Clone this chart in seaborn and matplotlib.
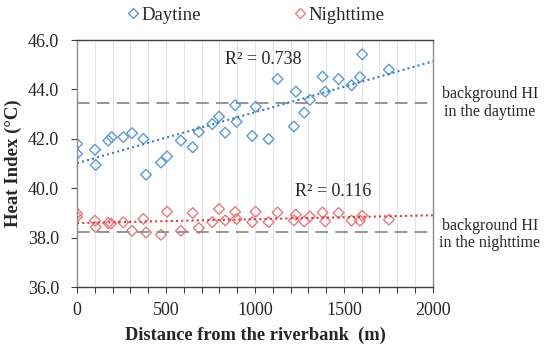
"""
Heat index vs distance from the riverbank (day / night) with linear trends
"""

import matplotlib
matplotlib.use("Agg")

import numpy as np
import pandas as pd
import matplotlib.pyplot as plt
import seaborn as sns

# ---- data ----
day_dist = [0, 0, 101, 105, 176, 195, 260, 309, 373, 388, 472, 506, 584, 650, 685,
            760, 798, 833, 889, 897, 985, 1004, 1077, 1127, 1219, 1230, 1277, 1309,
            1380, 1395, 1470, 1543, 1590, 1603, 1753]
day_hi = [41.80, 41.39, 41.56, 40.94, 41.93, 42.07, 42.07, 42.23, 42.00, 40.55, 41.04,
          41.29, 41.93, 41.66, 42.28, 42.60, 42.90, 42.25, 43.36, 42.69, 42.12, 43.30,
          41.99, 44.42, 42.50, 43.91, 43.06, 43.58, 44.52, 43.91, 44.42, 44.17, 44.50,
          45.42, 44.80]

night_dist = [0, 0, 101, 105, 176, 191, 260, 309, 373, 388, 472, 506, 584, 650, 685,
              760, 798, 833, 889, 897, 985, 1004, 1077, 1127, 1219, 1230, 1277, 1309,
              1380, 1395, 1470, 1543, 1590, 1603, 1753]
night_hi = [38.98, 38.85, 38.69, 38.43, 38.59, 38.57, 38.62, 38.28, 38.76, 38.21, 38.12,
            39.05, 38.28, 39.00, 38.39, 38.63, 39.16, 38.70, 39.04, 38.76, 38.63, 39.05,
            38.63, 39.02, 38.70, 38.93, 38.66, 38.86, 39.02, 38.66, 39.00, 38.69, 38.69,
            38.89, 38.73]

background_day = 43.45
background_night = 38.22
r2_labels = ["R\u00b2 = 0.738", "R\u00b2 = 0.116"]
series_names = ["Daytine", "Nighttime"]

BLUE = "#5b9bd5"
BLUE_LINE = "#3a7cc4"
RED = "#e87a7e"
RED_LINE = "#e0393e"

sns.set_style("white")
plt.rcParams["font.family"] = ["Liberation Serif", "DejaVu Serif"]

df = pd.concat([
    pd.DataFrame({"dist": day_dist, "hi": day_hi, "period": series_names[0]}),
    pd.DataFrame({"dist": night_dist, "hi": night_hi, "period": series_names[1]}),
])

fig = plt.figure(figsize=(5.5, 3.48), dpi=100)
ax = fig.add_axes([0.14, 0.175, 0.647, 0.71])
ax.set_xlim(0, 2000)
ax.set_ylim(36, 46)

# vertical grid every 100 m
ax.set_xticks(np.arange(0, 2001, 500))
ax.set_xticks(np.arange(0, 2001, 100), minor=True)
ax.set_yticks(np.arange(36, 46.1, 2))
ax.grid(axis="x", which="both", color="#e4e4e4", linewidth=0.8)
ax.set_axisbelow(True)

# background HI lines
ax.axhline(background_day, color="#8c8c8c", linestyle=(0, (7, 4)), linewidth=1.3)
ax.axhline(background_night, color="#8c8c8c", linestyle=(0, (7, 4)), linewidth=1.3)

# trend lines across the whole axis
sns.regplot(x=day_dist, y=day_hi, ax=ax, scatter=False, ci=None, truncate=False,
            line_kws=dict(color=BLUE_LINE, linestyle=(0, (1, 1.5)), linewidth=1.5))
sns.regplot(x=night_dist, y=night_hi, ax=ax, scatter=False, ci=None, truncate=False,
            line_kws=dict(color=RED_LINE, linestyle=(0, (1, 1.5)), linewidth=1.5))

sns.scatterplot(data=df, x="dist", y="hi", hue="period", palette=[BLUE, RED],
                marker="D", s=30, linewidth=1.0, legend=False, ax=ax)
# make the diamonds hollow with coloured edges
pts = ax.collections[-1]
cols = [BLUE if p == series_names[0] else RED for p in df["period"]]
pts.set_facecolor("none")
pts.set_edgecolor(cols)

ax.set_xlim(0, 2000)
ax.set_ylim(36, 46)
ax.yaxis.set_major_formatter(matplotlib.ticker.FormatStrFormatter("%.1f"))

ax.text(1045, 45.2, r2_labels[0], ha="center", va="center", fontsize=13)
ax.text(1438, 39.85, r2_labels[1], ha="center", va="center", fontsize=13)

ax.text(1.16, background_day, "background HI\nin the daytime", transform=ax.get_yaxis_transform(),
        ha="center", va="center", fontsize=11.5, linespacing=1.1)
ax.text(1.16, background_night - 0.1, "background HI\nin the nighttime", transform=ax.get_yaxis_transform(),
        ha="center", va="center", fontsize=11.5, linespacing=1.1)

ax.set_xlabel("Distance from the riverbank  (m)", fontsize=13.2, fontweight="bold", labelpad=5)
ax.set_ylabel("Heat Index (\u00b0C)", fontsize=13.5, fontweight="bold", labelpad=4)

ax.tick_params(axis="both", which="major", labelsize=13, length=4, width=0.8,
               direction="out", color="#404040")
ax.tick_params(axis="x", which="minor", length=4, width=0.8, direction="out", color="#404040")
ax.tick_params(axis="x", which="major", pad=7)
ax.tick_params(axis="y", which="major", pad=9)
ax.xaxis.set_ticks_position("bottom")
ax.yaxis.set_ticks_position("left")

for side in ["left", "bottom", "top", "right"]:
    ax.spines[side].set_visible(True)
    ax.spines[side].set_linewidth(1.0)
    ax.spines[side].set_color("#404040")
ax.spines["left"].set_color("#8c8c8c")
ax.spines["right"].set_color("#8c8c8c")

handles = [
    plt.Line2D([], [], marker="D", linestyle="none", markersize=5,
               markerfacecolor="none", markeredgecolor=BLUE, markeredgewidth=1.0),
    plt.Line2D([], [], marker="D", linestyle="none", markersize=5,
               markerfacecolor="none", markeredgecolor=RED, markeredgewidth=1.0),
]
ax.legend(handles, series_names, loc="center", bbox_to_anchor=(0.5, 1.1), ncol=2,
          frameon=False, fontsize=13.5, handletextpad=0.05, columnspacing=4.9,
          handlelength=0.8)

fig.savefig("out.png", dpi=100)
